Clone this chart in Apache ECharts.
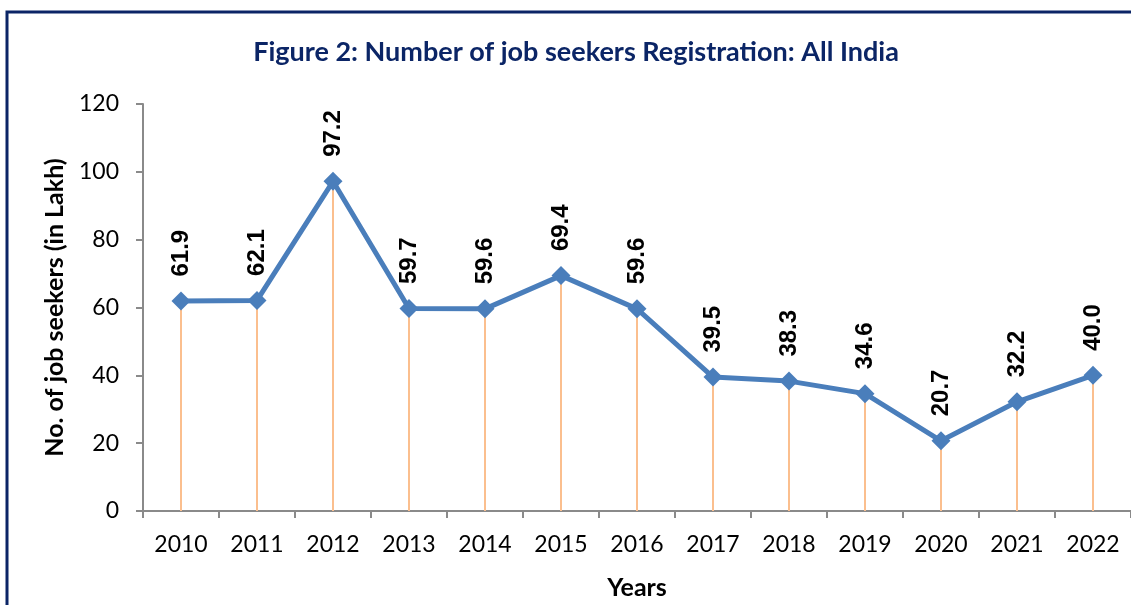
<!DOCTYPE html>
<html>
<head>
<meta charset="utf-8">
<script src="https://cdn.jsdelivr.net/npm/echarts@6/dist/echarts.min.js"></script>
<style>
  html, body { margin: 0; padding: 0; background: #fff; }
  #chart { width: 1131px; height: 605px; }
</style>
</head>
<body>
<div id="chart"></div>
<script>
// data
var years = ['2010', '2011', '2012', '2013', '2014', '2015', '2016', '2017', '2018', '2019', '2020', '2021', '2022'];
var seekers = [61.9, 62.1, 97.2, 59.7, 59.6, 69.4, 59.6, 39.5, 38.3, 34.6, 20.7, 32.2, 40.0];
var yTicks = [0, 20, 40, 60, 80, 100, 120];

var chart = echarts.init(document.getElementById('chart'));

var option = {
  animation: false,
  title: {
    text: 'Figure 2: Number of job seekers Registration: All India',
    left: 571,
    top: 34,
    textAlign: 'center',
    textStyle: { fontFamily: 'Lato', fontWeight: 'bold', fontSize: 27, color: '#0b2566' }
  },
  graphic: [{
    type: 'rect',
    shape: { x: 7, y: 12, width: 1140, height: 620 },
    style: { fill: 'none', stroke: '#0b2566', lineWidth: 3 }
  }],
  grid: { left: 143, right: 0, top: 104, bottom: 91 },
  xAxis: {
    type: 'category',
    data: years,
    name: 'Years',
    nameLocation: 'middle',
    nameGap: 64,
    nameTextStyle: { fontFamily: 'Lato', fontWeight: 'bold', fontSize: 25, color: '#000' },
    axisLine: { lineStyle: { color: '#8a8a8a', width: 2 } },
    axisTick: { show: true, length: 7, lineStyle: { color: '#8a8a8a', width: 2 } },
    axisLabel: { margin: 22, fontFamily: 'Lato', fontSize: 23, color: '#000' }
  },
  yAxis: {
    type: 'value',
    min: yTicks[0],
    max: yTicks[yTicks.length - 1],
    interval: 20,
    name: 'No. of job seekers (in Lakh)',
    nameLocation: 'middle',
    nameRotate: 90,
    nameGap: 76,
    nameTextStyle: { fontFamily: 'Lato', fontWeight: 'bold', fontSize: 25, color: '#000' },
    splitLine: { show: false },
    axisLine: { show: true, lineStyle: { color: '#8a8a8a', width: 2 } },
    axisTick: { show: true, length: 7, lineStyle: { color: '#8a8a8a', width: 2 } },
    axisLabel: { margin: 24, fontFamily: 'Lato', fontSize: 23, color: '#000' }
  },
  series: [
    {
      // drop lines from each point down to the axis
      type: 'bar',
      data: seekers,
      barWidth: 2,
      itemStyle: { color: '#fbbf8e' },
      silent: true,
      z: 1
    },
    {
      type: 'line',
      data: seekers,
      symbol: 'diamond',
      symbolSize: [19, 19],
      lineStyle: { color: '#4a7ebb', width: 5 },
      itemStyle: { color: '#4a7ebb' },
      z: 3,
      label: {
        show: true,
        position: 'top',
        distance: 15,
        rotate: 90,
        align: 'left',
        verticalAlign: 'middle',
        fontFamily: 'Liberation Sans',
        fontWeight: 'bold',
        fontSize: 24,
        color: '#000',
        formatter: function (p) { return p.value.toFixed(1); }
      }
    }
  ]
};

chart.setOption(option);
</script>
</body>
</html>
